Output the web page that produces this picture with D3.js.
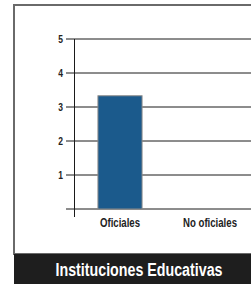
<!DOCTYPE html>
<html><head><meta charset="utf-8">
<script src="https://cdn.jsdelivr.net/npm/d3@7/dist/d3.min.js"></script>
<style>html,body{margin:0;padding:0;background:#fff;overflow:hidden}</style>
</head><body>
<svg id="c" width="251" height="284"></svg>
<script>
const categories = ["Oficiales", "No oficiales"];
const values = [3.33, 0];
const yTicks = [1, 2, 3, 4, 5];
const title = "Instituciones Educativas";

const svg = d3.select("#c");
const font = "'Liberation Sans', Arial, sans-serif";

// outer frame
svg.append("rect").attr("x", 14).attr("y", 5).attr("width", 260).attr("height", 249)
  .attr("fill", "#fff").attr("stroke", "#6a6a6a").attr("stroke-width", 2);
// title bar
svg.append("rect").attr("x", 14).attr("y", 254).attr("width", 240).attr("height", 30).attr("fill", "#1e1e1e");
svg.append("text").attr("transform", "translate(139,276) scale(0.77,1)").attr("text-anchor", "middle")
  .attr("fill", "#fff").attr("font-family", font).attr("font-weight", "bold")
  .attr("font-size", 18.5).text(title);

const y = d3.scaleLinear().domain([0, 5]).range([209, 39]);
const x = d3.scaleBand().domain(categories).range([75, 255]).paddingInner(0.51).paddingOuter(0.255);

// gridlines
svg.append("g").selectAll("line").data(yTicks).join("line")
  .attr("x1", 66).attr("x2", 251).attr("y1", d => y(d)).attr("y2", d => y(d))
  .attr("stroke", "#1a1a1a").attr("stroke-width", 1);
// baseline
svg.append("line").attr("x1", 66).attr("x2", 251).attr("y1", y(0)).attr("y2", y(0))
  .attr("stroke", "#1a1a1a").attr("stroke-width", 1);

// bars
svg.append("g").selectAll("rect").data(values).join("rect")
  .attr("x", (d, i) => x(categories[i])).attr("width", x.bandwidth())
  .attr("y", d => y(d)).attr("height", d => y(0) - y(d))
  .attr("fill", "#1b5a8c").attr("stroke", d => d > 0 ? "#8a8a8a" : "none").attr("stroke-width", 1);

// y axis line
svg.append("line").attr("x1", 74.5).attr("x2", 74.5).attr("y1", y(5)).attr("y2", 217)
  .attr("stroke", "#1a1a1a").attr("stroke-width", 1);

// y tick labels
svg.append("g").selectAll("text").data(yTicks).join("text")
  .attr("transform", d => `translate(63,${y(d) + 3.5}) scale(0.85,1)`).attr("text-anchor", "end")
  .attr("font-family", font).attr("font-weight", "bold").attr("font-size", 10)
  .attr("fill", "#222").text(d => d);

// category labels
svg.append("g").selectAll("text").data(categories).join("text")
  .attr("transform", d => `translate(${x(d) + x.bandwidth() / 2},226.5) scale(0.77,1)`)
  .attr("text-anchor", "middle")
  .attr("font-family", font).attr("font-weight", "bold").attr("font-size", 12.5)
  .attr("fill", "#222").text(d => d);
</script>
</body></html>
